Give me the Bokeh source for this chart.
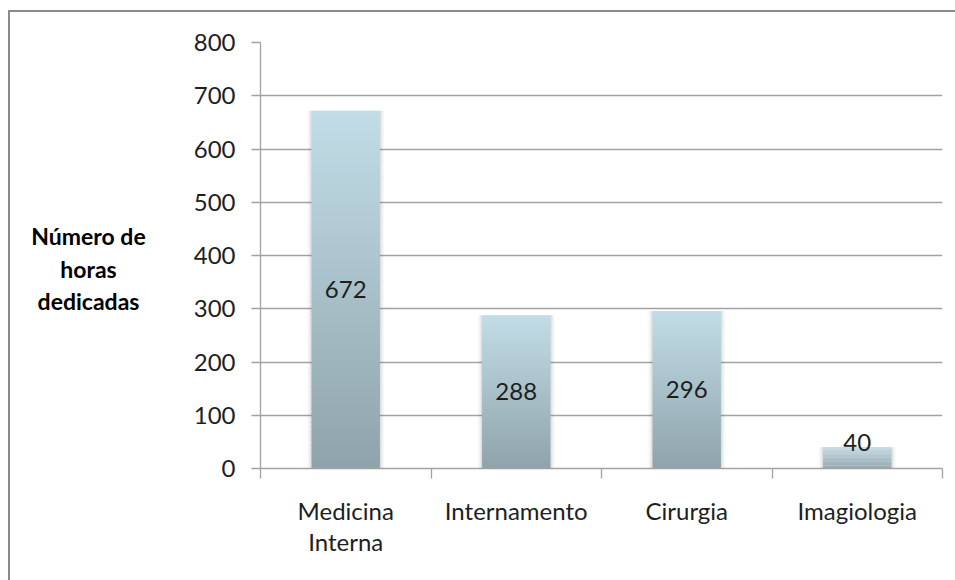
from bokeh.plotting import figure
from bokeh.layouts import row
from bokeh.models import ColumnDataSource, FixedTicker, Range1d, LinearAxis, Label
from bokeh.core.properties import value
from bokeh.embed import file_html
from bokeh.resources import INLINE

# Hours dedicated per service
categories = ["Medicina Interna", "Internamento", "Cirurgia", "Imagiologia"]
tick_labels = ["Medicina\nInterna", "Internamento", "Cirurgia", "Imagiologia"]
hours = [672, 288, 296, 40]
y_ticks = [0, 100, 200, 300, 400, 500, 600, 700, 800]
y_title_lines = ["Número de", "horas", "dedicadas"]

FONT = "Lato"
TEXT = "#1e1e1e"
GRID = "#a2a2a2"
TOP_RGB = (194, 221, 231)
BOTTOM_RGB = (143, 163, 171)
BAR_W = 0.4
STEPS = 80

HEIGHT = 568
TITLE_W = 160
MAIN_W = 945 - TITLE_W

xs = [i + 0.5 for i in range(len(categories))]

# vertical gradient, built from stacked slices of each bar
g = dict(x=[], bottom=[], top=[], color=[])
for x, v in zip(xs, hours):
    for k in range(STEPS):
        t = (k + 0.5) / STEPS
        rgb = tuple(round(b + (a - b) * t) for a, b in zip(TOP_RGB, BOTTOM_RGB))
        g["x"].append(x)
        g["bottom"].append(v * k / STEPS)
        g["top"].append(min(v, v * (k + 1.6) / STEPS))
        g["color"].append("#%02x%02x%02x" % rgb)
grad = ColumnDataSource(g)

bars = ColumnDataSource(dict(
    x=xs,
    hours=hours,
    label=[str(v) for v in hours],
    label_y=[v / 2 if v > 100 else v + 9 for v in hours],
))

# narrow panel holding the horizontal value-axis title, one centred line each
tp = figure(
    width=TITLE_W, height=HEIGHT, output_backend="svg", toolbar_location=None,
    x_axis_location=None, y_axis_location=None,
    min_border=0, min_border_left=0, min_border_right=0,
    min_border_top=0, min_border_bottom=0,
)
tp.outline_line_color = None
tp.grid.visible = False
tp.background_fill_color = "white"
tp.border_fill_color = "white"
LINE_PITCH = 32.5
for i, line in enumerate(y_title_lines):
    tp.add_layout(Label(
        x=78, y=200 + (1 - i) * LINE_PITCH, x_units="screen", y_units="screen",
        text=line,
        text_font=FONT, text_font_size="23px", text_font_style="bold",
        text_color="#000000", text_align="center", text_baseline="middle",
    ))

p = figure(
    width=MAIN_W, height=HEIGHT,
    x_range=Range1d(0, len(categories)),
    y_range=Range1d(0, 800),
    output_backend="svg", toolbar_location=None,
    x_axis_location=None, y_axis_location=None,
    min_border_left=250 - TITLE_W, min_border_right=13,
    min_border_top=30, min_border_bottom=112,
)
p.outline_line_color = None
p.background_fill_color = "white"
p.border_fill_color = "white"

# soft shadow around the bars
for pad, alpha in [(0.05, 0.06), (0.03, 0.09), (0.014, 0.12)]:
    p.vbar(x="x", top="hours", width=BAR_W + pad, bottom=0, source=bars,
           fill_color="#7a7a7a", fill_alpha=alpha, line_color=None)

p.vbar(x="x", bottom="bottom", top="top", width=BAR_W, source=grad,
       fill_color="color", line_color=None)

p.text(x="x", y="label_y", text="label", source=bars,
       text_font=value(FONT), text_font_size="24px", text_color=TEXT,
       text_align="center", text_baseline="middle")

# y axis
yax = LinearAxis(ticker=FixedTicker(ticks=y_ticks))
yax.axis_line_color = GRID
yax.axis_line_width = 1.3
yax.major_tick_line_color = GRID
yax.major_tick_line_width = 1.3
yax.major_tick_out = 9
yax.major_tick_in = 0
yax.minor_tick_line_color = None
yax.major_label_standoff = 16
yax.major_label_text_font = FONT
yax.major_label_text_font_size = "24px"
yax.major_label_text_color = TEXT
p.add_layout(yax, "left")

# x axis: labels at category centres, tick marks at category boundaries
xax = LinearAxis(ticker=FixedTicker(ticks=xs, minor_ticks=list(range(len(categories) + 1))))
xax.major_label_overrides = {x: lab for x, lab in zip(xs, tick_labels)}
xax.axis_line_color = GRID
xax.axis_line_width = 1.3
xax.major_tick_line_color = None
xax.major_tick_out = 0
xax.major_tick_in = 0
xax.minor_tick_line_color = GRID
xax.minor_tick_line_width = 1.3
xax.minor_tick_out = 10
xax.minor_tick_in = 0
xax.major_label_standoff = 17
xax.major_label_text_font = FONT
xax.major_label_text_font_size = "24px"
xax.major_label_text_color = TEXT
xax.major_label_text_line_height = 1.1
p.add_layout(xax, "below")

p.xgrid.visible = False
p.ygrid.ticker = FixedTicker(ticks=y_ticks)
p.ygrid.grid_line_color = GRID
p.ygrid.grid_line_width = 1.3

chart = row(tp, p, spacing=0)
chart.margin = (10, 0, 0, 8)
chart.styles = {"border-top": "2px solid #8a8a8a", "border-left": "2px solid #8a8a8a",
                "background-color": "white"}

open("out.html", "w").write(file_html(chart, INLINE))
